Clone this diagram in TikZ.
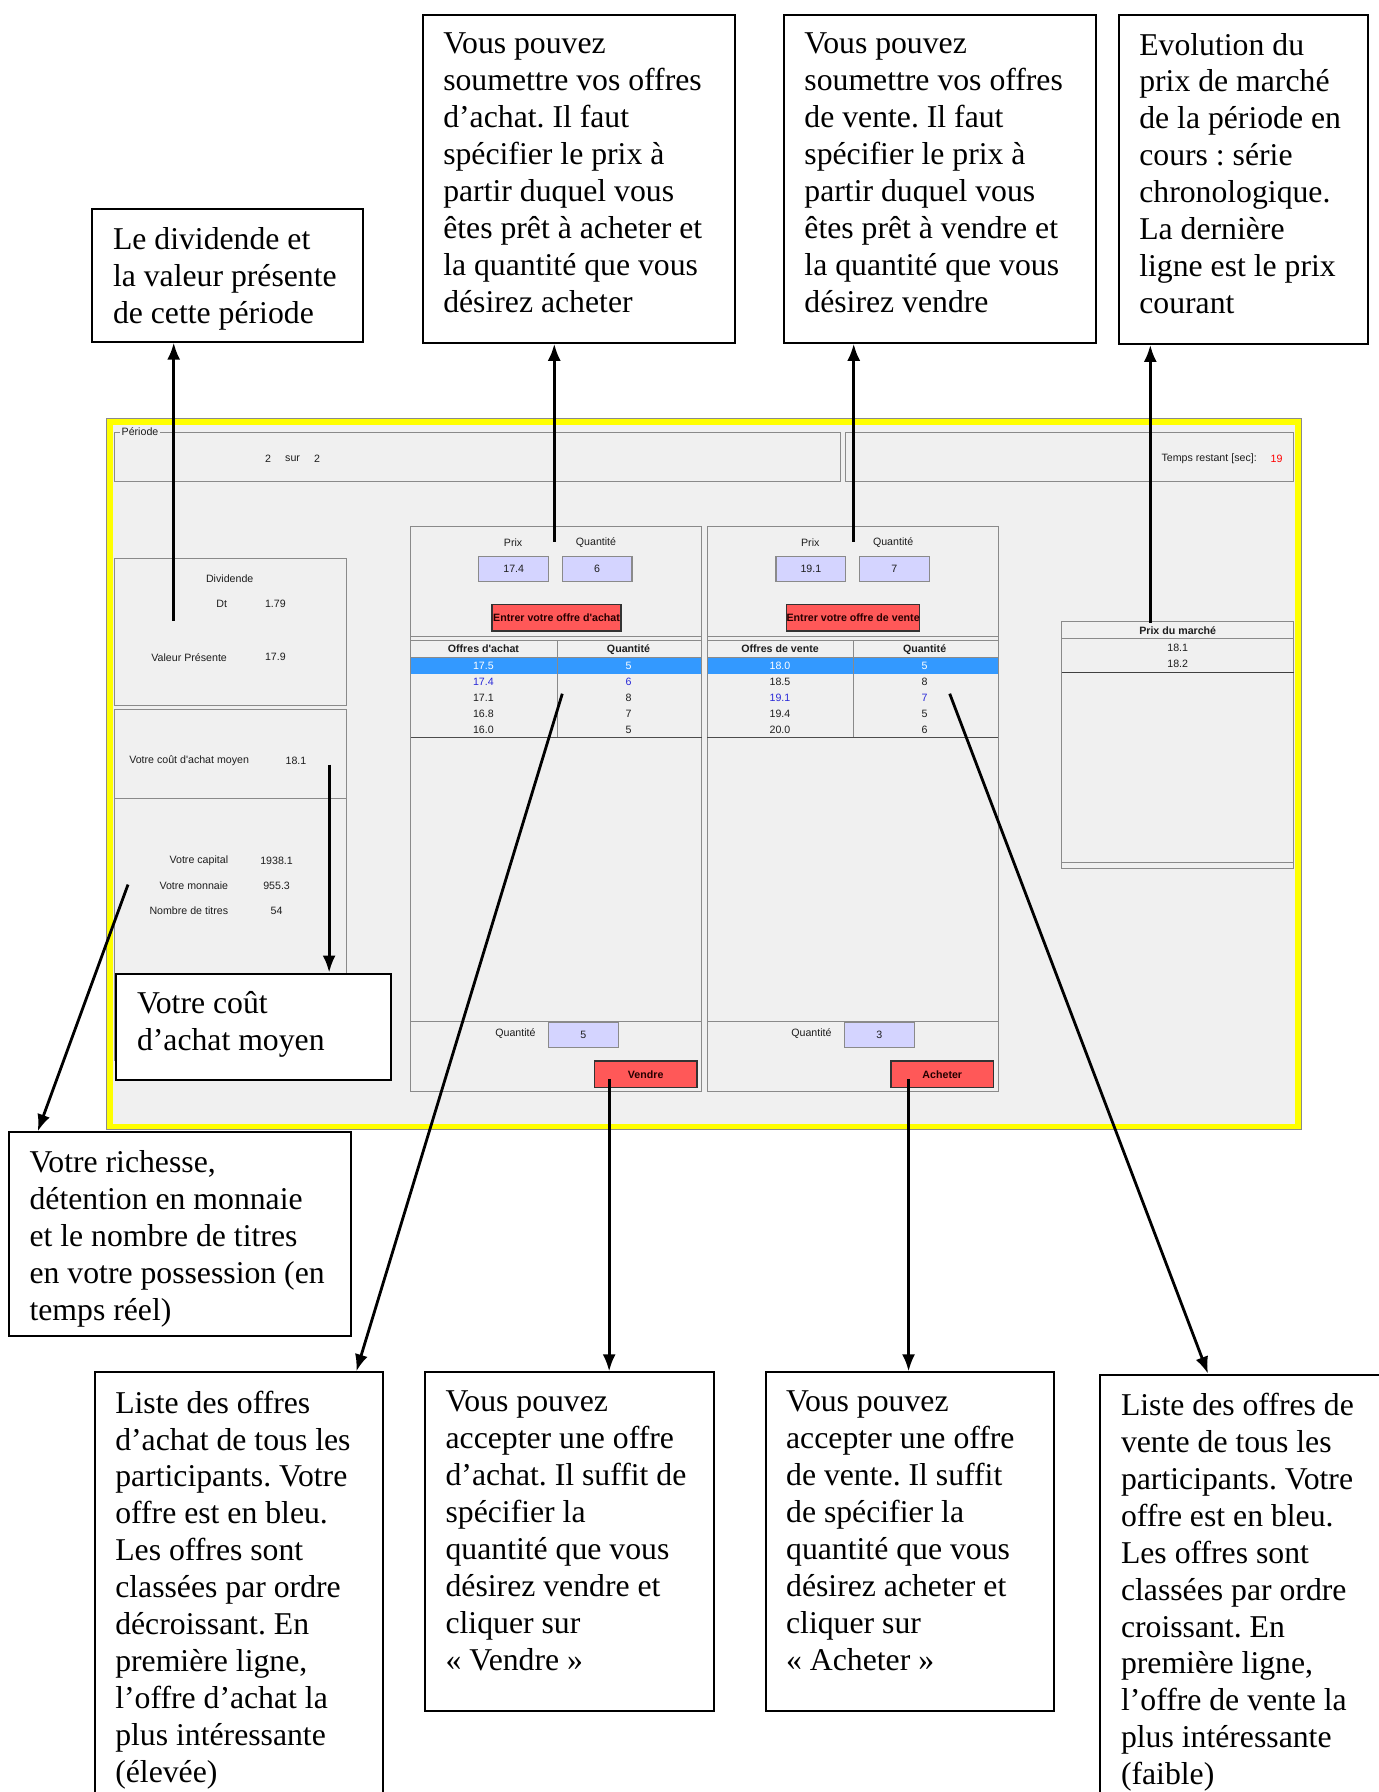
\documentclass[tikz,border=0pt]{standalone}
\usepackage{fontspec}
\setmainfont{Liberation Serif}
\newfontfamily\uifont{Liberation Sans}
\usepackage{xcolor}
\usepackage{tikz}
\usetikzlibrary{calc}
\usetikzlibrary{arrows.meta}
\definecolor{fond}{HTML}{F0F0F0}
\definecolor{gris}{HTML}{8A8A8A}
\definecolor{jaune}{HTML}{FFFF00}
\definecolor{saisie}{HTML}{D4D4FF}
\definecolor{rougebouton}{HTML}{FF5858}
\definecolor{selection}{HTML}{3399FF}
\definecolor{bleuoffre}{HTML}{2A2AD8}
\definecolor{texteui}{HTML}{1E1E1E}
\newlength{\upx}
\setlength{\upx}{0.02cm}
\frenchspacing
\newcommand{\fontbulle}{\fontsize{15.8}{18.4}\selectfont}
\newcommand{\fontui}{\uifont\fontsize{5.3}{6.2}\selectfont}
\newcommand{\bulle}[3]{\parbox[t][\dimexpr#2\upx-32\upx\relax][t]{\dimexpr#1\upx-36\upx\relax}{\raggedright\frenchspacing#3}}
\tikzset{
	bulle/.style={draw,line width=1pt,fill=white,anchor=north west,inner xsep=18\upx,inner ysep=16\upx,font=\fontbulle},
	fleche/.style={->,line width=1.4pt},
	cadre/.style={draw=gris,line width=0.5pt},
	ui/.style={font=\fontui,inner sep=0pt,text=texteui},
	uigras/.style={ui,font=\fontui\bfseries},
	champ/.style={ui,draw=gris,fill=saisie,line width=0.6pt,minimum width=61\upx,minimum height=21.5\upx},
	bouton/.style={uigras,draw=black!80,fill=rougebouton,line width=0.7pt,minimum height=23\upx,text=black!85!red}
}

\begin{document}
\begin{tikzpicture}[x=0.02cm,y=-0.02cm,>={Latex[length=8.5pt,width=6.5pt]}]
	\useasboundingbox (0,0) rectangle (1206,1568);
	\fill[white] (0,0) rectangle (1206,1568);
	\fill[fond] (94,367) rectangle (1138,988);
	\draw[gris,line width=0.4pt] (93.5,366.5) rectangle (1138.5,988.5);
	\draw[jaune,line width=4.5\upx] (96.25,369.25) rectangle (1135.75,985.75);
	\draw[cadre] (100.5,378) rectangle (735,421);
	\node[ui,fill=fond,inner xsep=1pt] (periode titre) at (122.5,378) {Période};
	\node[ui] (periode num) at (234.5,401.5) {2};
	\node[ui] (periode sur) at (256,401.5) {sur};
	\node[ui] (periode tot) at (277.5,401.5) {2};
	\draw[cadre] (740,378) rectangle (1132,421);
	\node[ui,anchor=east] (temps) at (1100,401.5) {Temps restant [sec]:};
	\node[ui,text=red] (temps val) at (1117,401.5) {19};
	\draw[cadre] (100.5,489) rectangle (303.5,617);
	\node[ui] (dividende) at (201,506) {Dividende};
	\node[ui] (dt) at (194,528) {Dt};
	\node[ui] (dt val) at (241,528) {1.79};
	\node[ui] (valeur) at (165.5,575) {Valeur Présente};
	\node[ui] (valeur val) at (241,575) {17.9};
	\draw[cadre] (100.5,621) rectangle (303.5,698.5);
	\node[ui] (cout moyen) at (165.5,666) {Votre coût d'achat moyen};
	\node[ui] (cout val) at (259,666) {18.1};
	\draw[cadre] (100.5,698.5) rectangle (303.5,928);
	\node[ui,anchor=east] (capital) at (200,753.5) {Votre capital};
	\node[ui] (capital val) at (242,753.5) {1938.1};
	\node[ui,anchor=east] (monnaie) at (200,775) {Votre monnaie};
	\node[ui] (monnaie val) at (242,775) {955.3};
	\node[ui,anchor=east] (titres) at (200,797) {Nombre de titres};
	\node[ui] (titres val) at (242,797) {54};
	\draw[cadre] (359.5,461) rectangle (614,955);
	\node[ui] (achat prix lbl) at (449,474.5) {Prix};
	\node[ui] (achat qte lbl) at (521.5,474.5) {Quantité};
	\node[champ] (achat prix) at (449.5,498) {17.4};
	\node[champ] (achat qte) at (522.5,498) {6};
	\node[bouton,minimum width=113\upx] (achat entrer) at (487,540.5) {Entrer votre offre d'achat};
	\draw[cadre] (359.5,556.5) -- (614,556.5) (359.5,560) -- (614,560);
	\fill[selection] (360,575) rectangle (613.5,590);
	\draw[cadre] (359.5,575) -- (614,575) (487.5,560) -- (487.5,645);
	\draw[black!70,line width=0.6pt] (359.5,645) -- (614,645);
	\node[uigras] (achat col1) at (423,568) {Offres d'achat};
	\node[uigras] (achat col2) at (550,568) {Quantité};
	\foreach \prix/\qte/\coul [count=\i] in {17.5/5/white,17.4/6/bleuoffre,17.1/8/texteui,16.8/7/texteui,16.0/5/texteui}{
		\node[ui,text=\coul] (achat p\i) at (423,568.8+13.9*\i) {\prix};
		\node[ui,text=\coul] (achat q\i) at (550,568.8+13.9*\i) {\qte};
	}
	\draw[cadre] (359.5,893.5) -- (614,893.5);
	\node[ui] (vendre qte lbl) at (451,904) {Quantité};
	\node[champ] (vendre qte) at (510.5,905.5) {5};
	\node[bouton,minimum width=90\upx] (vendre) at (565,940) {Vendre};
	\draw[cadre] (619,461) rectangle (873.5,955);
	\node[ui] (vente prix lbl) at (709,474.5) {Prix};
	\node[ui] (vente qte lbl) at (781.5,474.5) {Quantité};
	\node[champ] (vente prix) at (709.5,498) {19.1};
	\node[champ] (vente qte) at (782.5,498) {7};
	\node[bouton,minimum width=116\upx] (vente entrer) at (746.5,540.5) {Entrer votre offre de vente};
	\draw[cadre] (619,556.5) -- (873.5,556.5) (619,560) -- (873.5,560);
	\fill[selection] (619.5,575) rectangle (873,590);
	\draw[cadre] (619,575) -- (873.5,575) (746.5,560) -- (746.5,645);
	\draw[black!70,line width=0.6pt] (619,645) -- (873.5,645);
	\node[uigras] (vente col1) at (682.5,568) {Offres de vente};
	\node[uigras] (vente col2) at (809,568) {Quantité};
	\foreach \prix/\qte/\coul [count=\i] in {18.0/5/white,18.5/8/texteui,19.1/7/bleuoffre,19.4/5/texteui,20.0/6/texteui}{
		\node[ui,text=\coul] (vente p\i) at (682.5,568.8+13.9*\i) {\prix};
		\node[ui,text=\coul] (vente q\i) at (809,568.8+13.9*\i) {\qte};
	}
	\draw[cadre] (619,893.5) -- (873.5,893.5);
	\node[ui] (acheter qte lbl) at (710,904) {Quantité};
	\node[champ] (acheter qte) at (769.5,905.5) {3};
	\node[bouton,minimum width=90\upx] (acheter) at (824.5,940) {Acheter};
	\draw[cadre] (929,544) rectangle (1132,760);
	\draw[cadre] (929,558.5) -- (1132,558.5) (929,755) -- (1132,755);
	\draw[black!75] (929,588) -- (1132,588);
	\node[uigras] (marche titre) at (1030.5,551.5) {Prix du marché};
	\node[ui] (marche 1) at (1030.5,567) {18.1};
	\node[ui] (marche 2) at (1030.5,580.5) {18.2};
	\node[bulle] (div) at (80,182) {\bulle{237}{116}{Le dividende et\\la valeur présente\\de cette période}};
	\node[bulle] (sachat) at (369,12) {\bulle{273}{287}{Vous pouvez\\soumettre vos offres\\d’achat. Il faut\\spécifier le prix à\\partir duquel vous\\êtes prêt à acheter et\\la quantité que vous\\désirez acheter}};
	\node[bulle] (svente) at (685,12) {\bulle{273}{287}{Vous pouvez\\soumettre vos offres\\de vente. Il faut\\spécifier le prix à\\partir duquel vous\\êtes prêt à vendre et\\la quantité que vous\\désirez vendre}};
	\node[bulle] (evol) at (978,12) {\bulle{218}{288}{Evolution du\\prix de marché\\de la période en\\cours : série\\chronologique.\\La dernière\\ligne est le prix\\courant}};
	\node[bulle] (cout) at (101,851) {\bulle{240}{93}{Votre coût\\d’achat moyen}};
	\node[bulle] (rich) at (7,990) {\bulle{299}{178}{Votre richesse,\\détention en monnaie\\et le nombre de titres\\en votre possession (en\\temps réel)}};
	\node[bulle] (lachat) at (82,1200) {\bulle{252}{420}{Liste des offres\\d’achat de tous les\\participants. Votre\\offre est en bleu.\\Les offres sont\\classées par ordre\\décroissant. En\\première ligne,\\l’offre d’achat la\\plus intéressante\\(élevée)}};
	\node[bulle] (aachat) at (371,1200) {\bulle{253}{296}{Vous pouvez\\accepter une offre\\d’achat. Il suffit de\\spécifier la\\quantité que vous\\désirez vendre et\\cliquer sur\\«~Vendre~»}};
	\node[bulle] (avente) at (669,1200) {\bulle{252}{296}{Vous pouvez\\accepter une offre\\de vente. Il suffit\\de spécifier la\\quantité que vous\\désirez acheter et\\cliquer sur\\«~Acheter~»}};
	\node[bulle] (lvente) at (962,1202) {\bulle{270}{420}{Liste des offres de\\vente de tous les\\participants. Votre\\offre est en bleu.\\Les offres sont\\classées par ordre\\croissant. En\\première ligne,\\l’offre de vente la\\plus intéressante\\(faible)}};
	\coordinate (p div) at (152,543);
	\coordinate (p sachat) at (485,474);
	\coordinate (p svente) at (747,474);
	\coordinate (p evol) at (1006.5,545);
	\coordinate (p cout) at (288,669);
	\coordinate (p rich) at (112,774);
	\coordinate (p lachat) at (492,607);
	\coordinate (p vendre) at (533,944);
	\coordinate (p acheter) at (795,944);
	\coordinate (p lvente) at (831,607);
	\draw[fleche] (p div) -- (p div |- div.south);
	\draw[fleche] (p sachat) -- (p sachat |- sachat.south);
	\draw[fleche] (p svente) -- (p svente |- svente.south);
	\draw[fleche] (p evol) -- (p evol |- evol.south);
	\draw[fleche] (p cout) -- (p cout |- cout.north);
	\draw[fleche] (p rich) -- ([xshift=26\upx]rich.north west);
	\draw[fleche] (p lachat) -- ([xshift=-24\upx]lachat.north east);
	\draw[fleche] (p vendre) -- (p vendre |- aachat.north);
	\draw[fleche] (p acheter) -- (p acheter |- avente.north);
	\draw[fleche] (p lvente) -- ([xshift=95\upx]lvente.north west);
\end{tikzpicture}
\end{document}
